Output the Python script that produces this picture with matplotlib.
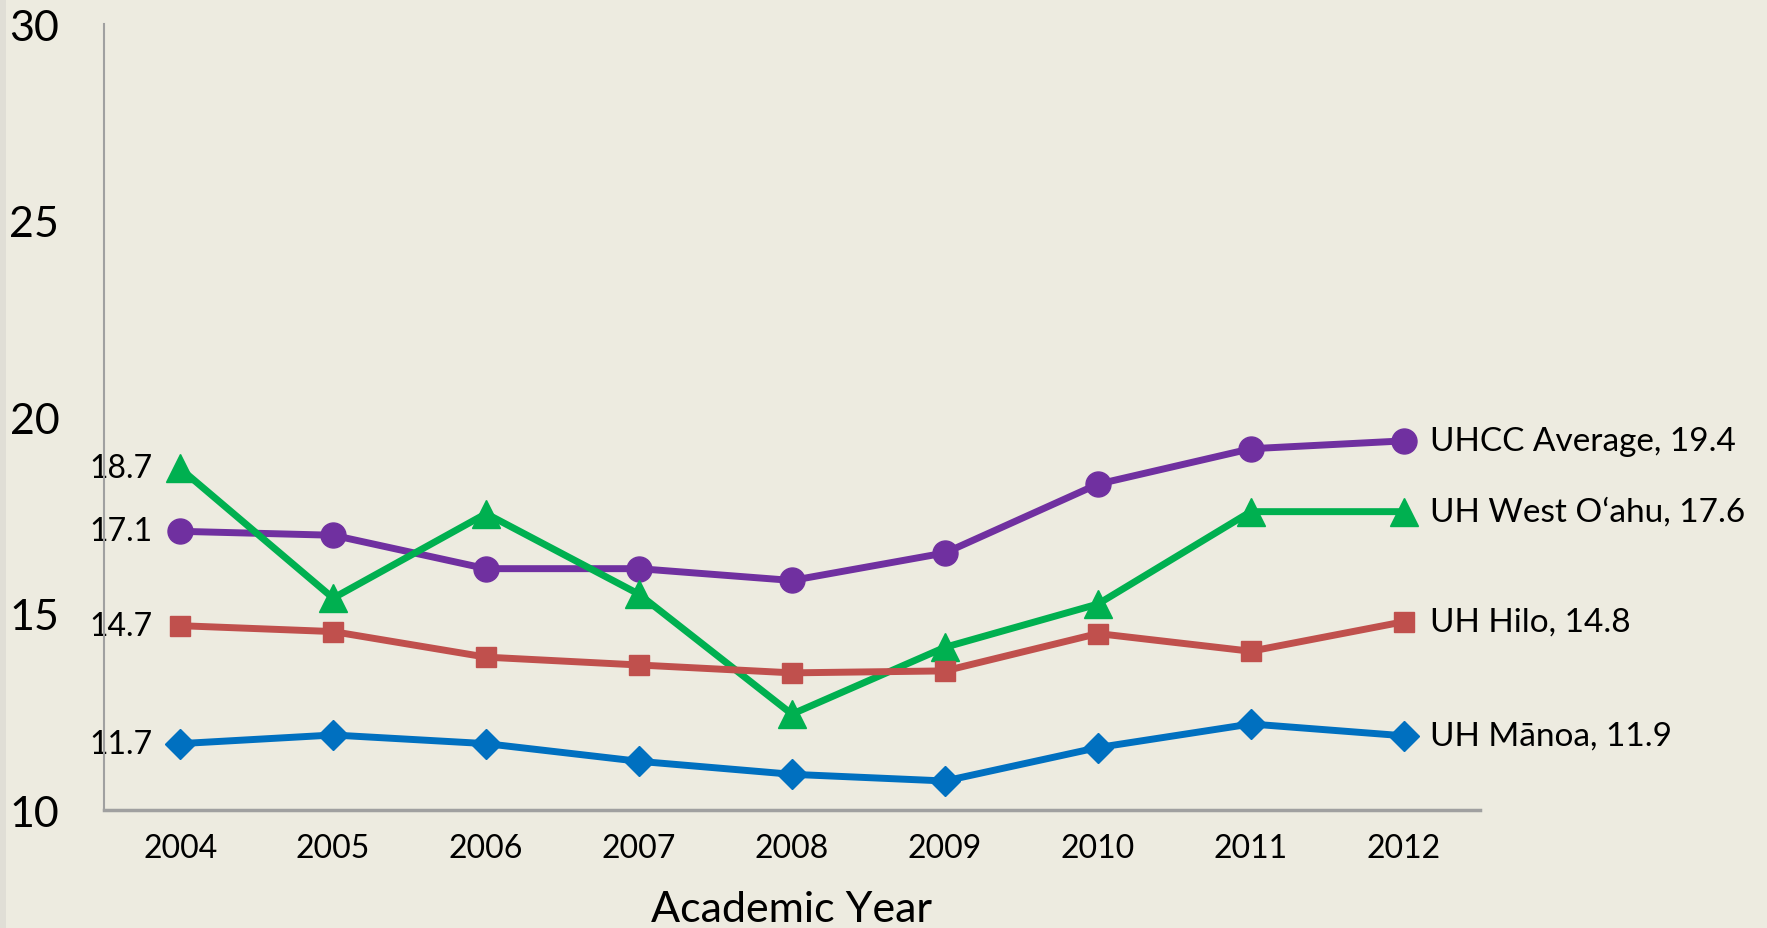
import matplotlib
matplotlib.use("Agg")
import matplotlib.pyplot as plt
from matplotlib.patches import Rectangle

plt.rcParams['font.family'] = ['Lato', 'DejaVu Sans']

years = ['2004', '2005', '2006', '2007', '2008', '2009', '2010', '2011', '2012']

uhcc = [17.1, 17.0, 16.15, 16.15, 15.85, 16.55, 18.3, 19.2, 19.4]
west_oahu = [18.7, 15.4, 17.55, 15.5, 12.45, 14.15, 15.25, 17.6, 17.6]
hilo = [14.7, 14.55, 13.9, 13.7, 13.5, 13.55, 14.5, 14.05, 14.8]
manoa = [11.7, 11.92, 11.7, 11.25, 10.92, 10.75, 11.6, 12.2, 11.9]

series = [
    ('UHCC Average', uhcc, '#7030A0', 'o', 18),
    ('UH West O\u2018ahu', west_oahu, '#00B050', '^', 20),
    ('UH Hilo', hilo, '#C0504D', 's', 15),
    ('UH M\u0101noa', manoa, '#0070C0', 'D', 15),
]

bg = '#EDEBE0'
fig = plt.figure(figsize=(17.67, 9.29), dpi=100, facecolor=bg)
fig.patches.append(Rectangle((0, 0), 0.0035, 1, transform=fig.transFigure,
                             facecolor='#E0DED6', edgecolor='none'))
ax = fig.add_axes([0.0587, 0.1265, 0.779, 0.8465])
ax.set_facecolor(bg)

x = list(range(len(years)))
for name, vals, color, marker, ms in series:
    ax.plot(x, vals, color=color, lw=5, marker=marker, markersize=ms,
            markeredgecolor=color, clip_on=False, zorder=3)
    ax.annotate(f'{vals[0]:.1f}', (x[0], vals[0]), xytext=(-20, 0),
                textcoords='offset points', ha='right', va='center',
                fontsize=23, color='black', zorder=1)
    ax.annotate(f'{name}, {vals[-1]:.1f}', (x[-1], vals[-1]), xytext=(19, 0),
                textcoords='offset points', ha='left', va='center',
                fontsize=24, color='black', zorder=4)

ax.set_xlim(-0.5, len(years) - 0.5)
ax.set_ylim(10, 30)
ax.set_yticks([10, 15, 20, 25, 30])
ax.set_xticks(x)
ax.set_xticklabels(years)
ax.tick_params(axis='y', length=0, pad=32, labelsize=31)
ax.tick_params(axis='x', length=0, pad=16, labelsize=23)
ax.set_xlabel('Academic Year', fontsize=31, labelpad=20)

for side in ['top', 'right']:
    ax.spines[side].set_visible(False)
ax.spines['left'].set_color('#A0A0A0')
ax.spines['left'].set_linewidth(1.5)
ax.spines['bottom'].set_color('#A0A0A0')
ax.spines['bottom'].set_linewidth(2.5)
ax.spines['left'].set_zorder(2)

fig.savefig('out.png', dpi=100, facecolor=bg)
